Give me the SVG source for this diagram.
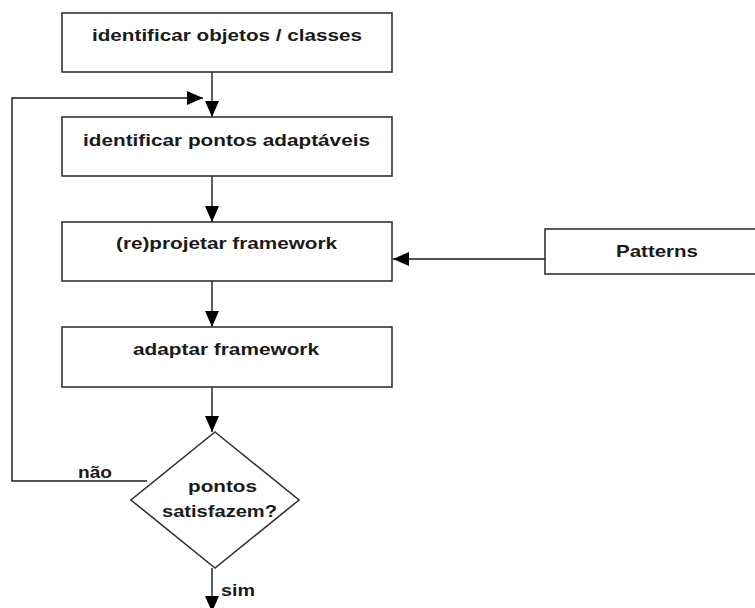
<svg xmlns="http://www.w3.org/2000/svg" width="755" height="608" viewBox="0 0 755 608">
  <style>
    .box { fill: #ffffff; stroke: #333333; stroke-width: 1.6; }
    .lbl { font-family: "Liberation Sans", Arial, sans-serif; font-size: 17px; font-weight: bold; fill: #1a1a1a; }
    .wire { fill: none; stroke: #1a1a1a; stroke-width: 1.4; }
    .head { fill: #000000; }
  </style>
  <defs>
    <marker id="arr" viewBox="0 0 16 14" refX="16" refY="7" markerWidth="16" markerHeight="14" markerUnits="userSpaceOnUse" orient="auto">
      <path class="head" d="M0,0 L16,7 L0,14 Z"/>
    </marker>
  </defs>
  <rect width="755" height="608" fill="#ffffff"/>

  <g id="connectors">
    <line class="wire" x1="212" y1="72" x2="212" y2="117" marker-end="url(#arr)"/>
    <polyline class="wire" points="147,481 12,481 12,98 203,98" marker-end="url(#arr)"/>
    <line class="wire" x1="212" y1="176" x2="212" y2="222" marker-end="url(#arr)"/>
    <line class="wire" x1="545" y1="259" x2="393" y2="259" marker-end="url(#arr)"/>
    <line class="wire" x1="212" y1="281" x2="212" y2="327" marker-end="url(#arr)"/>
    <line class="wire" x1="212" y1="387" x2="212" y2="432" marker-end="url(#arr)"/>
    <line class="wire" x1="212" y1="568" x2="212" y2="612" marker-end="url(#arr)"/>
    <text class="lbl" x="78" y="478" textLength="34" lengthAdjust="spacingAndGlyphs">não</text>
    <text class="lbl" x="221" y="596" textLength="34" lengthAdjust="spacingAndGlyphs">sim</text>
  </g>

  <g id="identificar-objetos">
    <rect class="box" x="62" y="13" width="330" height="59"/>
    <text class="lbl" x="92" y="41" textLength="270" lengthAdjust="spacingAndGlyphs">identificar objetos / classes</text>
  </g>

  <g id="identificar-pontos">
    <rect class="box" x="62" y="117" width="330" height="59"/>
    <text class="lbl" x="83" y="146" textLength="287" lengthAdjust="spacingAndGlyphs">identificar pontos adaptáveis</text>
  </g>

  <g id="reprojetar">
    <rect class="box" x="62" y="222" width="330" height="59"/>
    <text class="lbl" x="116" y="249" textLength="221" lengthAdjust="spacingAndGlyphs">(re)projetar framework</text>
  </g>

  <g id="patterns">
    <rect class="box" x="545" y="229" width="220" height="45"/>
    <text class="lbl" x="616" y="257" textLength="82" lengthAdjust="spacingAndGlyphs">Patterns</text>
  </g>

  <g id="adaptar">
    <rect class="box" x="62" y="327" width="330" height="60"/>
    <text class="lbl" x="133" y="355" textLength="186" lengthAdjust="spacingAndGlyphs">adaptar framework</text>
  </g>

  <g id="decisao">
    <polygon class="box" points="215,432 299,500 215,568 131,500"/>
    <text class="lbl" x="188" y="492" textLength="69" lengthAdjust="spacingAndGlyphs">pontos</text>
    <text class="lbl" x="162" y="517" textLength="115" lengthAdjust="spacingAndGlyphs">satisfazem?</text>
  </g>
</svg>
